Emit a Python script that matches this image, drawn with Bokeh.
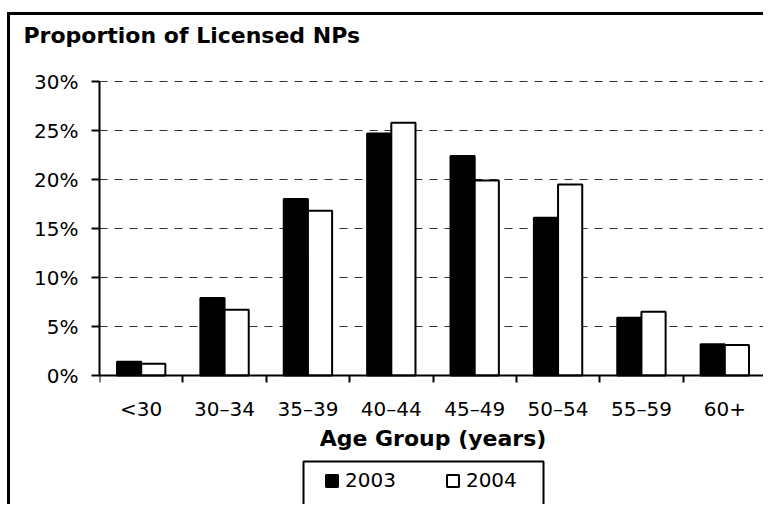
from bokeh.plotting import figure
from bokeh.models import (Range1d, FixedTicker, NumeralTickFormatter,
                          Legend, LegendItem, ColumnDataSource, BoxAnnotation)
from bokeh.embed import file_html
from bokeh.resources import INLINE

# ---- data ----
categories = ["<30", "30–34", "35–39", "40–44", "45–49", "50–54", "55–59", "60+"]
pct_2003 = [1.4, 7.9, 18.0, 24.7, 22.4, 16.1, 5.9, 3.2]
pct_2004 = [1.2, 6.7, 16.8, 25.8, 19.9, 19.5, 6.5, 3.1]
y_ticks = [0, 5, 10, 15, 20, 25, 30]
series_labels = ["2003", "2004"]
title_text = "Proportion of Licensed NPs"
x_title = "Age Group (years)"

# ---- layout constants (canvas px) ----
W, H = 756, 492
FL = 89            # frame left (y axis)
FT = 40            # top of the plotting frame
Y30, Y0 = 66, 360  # canvas rows of 30 % and 0 %
FONT = "DejaVu Sans"

n = len(categories)
ytop = y_ticks[-1] / 100
per_px = ytop / (Y0 - Y30)
ymin = -(H - Y0) * per_px          # frame extends below the x axis
ymax = ytop + (Y30 - FT) * per_px  # and a little above 30 %

p = figure(width=W, height=H, output_backend="svg", toolbar_location=None,
           x_range=Range1d(0, n), y_range=Range1d(ymin, ymax),
           min_border_left=FL, min_border_right=0, min_border_top=FT,
           min_border_bottom=0)
p.outline_line_color = None
p.background_fill_color = "white"
p.border_fill_color = "white"
p.styles = {"border-top": "3px solid black", "border-left": "3px solid black",
            "margin-top": "12px", "margin-left": "7px"}

centers = [i + 0.5 for i in range(n)]
bw = 0.29
src = ColumnDataSource(dict(
    x03=[c - bw / 2 for c in centers],
    x04=[c + bw / 2 for c in centers],
    y03=[v / 100 for v in pct_2003],
    y04=[v / 100 for v in pct_2004],
))
r03 = p.vbar(x="x03", top="y03", bottom=0, width=bw, source=src,
             fill_color="black", line_color="black", line_width=2)
r04 = p.vbar(x="x04", top="y04", bottom=0, width=bw, source=src,
             fill_color="white", line_color="black", line_width=2)

# ---- title ----
p.title.text = title_text
p.title.align = "left"
p.title.offset = 13 - FL
p.title.standoff = 12
p.title.text_font = FONT
p.title.text_font_size = "22px"
p.title.text_font_style = "bold"
p.title.text_color = "black"
p.title.vertical_align = "top"

# ---- x axis (drawn at y = 0 inside the frame) ----
xa = p.xaxis[0]
xa.fixed_location = 0
xa.ticker = FixedTicker(ticks=centers, minor_ticks=list(range(n + 1)))
xa.major_label_overrides = {c: lab for c, lab in zip(centers, categories)}
xa.major_tick_line_color = None
xa.major_tick_out = 0
xa.major_tick_in = 0
xa.minor_tick_line_color = "black"
xa.minor_tick_line_width = 2
xa.minor_tick_out = 7
xa.minor_tick_in = 0
xa.axis_line_width = 2
xa.axis_line_color = "black"
xa.major_label_text_font = FONT
xa.major_label_text_font_size = "20px"
xa.major_label_text_color = "black"
xa.major_label_standoff = 14
xa.axis_label = x_title
xa.axis_label_text_font = FONT
xa.axis_label_text_font_size = "22px"
xa.axis_label_text_font_style = "bold"
xa.axis_label_text_color = "black"
xa.axis_label_standoff = 2

# ---- y axis ----
ya = p.yaxis[0]
ya.bounds = (0, ytop)
ya.ticker = FixedTicker(ticks=[t / 100 for t in y_ticks])
ya.formatter = NumeralTickFormatter(format="0%")
ya.major_tick_out = 8
ya.major_tick_in = 0
ya.major_tick_line_width = 2
ya.major_tick_line_color = "black"
ya.minor_tick_line_color = None
ya.axis_line_width = 2
ya.axis_line_color = "black"
ya.major_label_text_font = FONT
ya.major_label_text_font_size = "20px"
ya.major_label_text_color = "black"
ya.major_label_standoff = 13

p.xgrid.grid_line_color = None
p.ygrid.grid_line_color = "#333333"
p.ygrid.grid_line_dash = "8 7"
p.ygrid.grid_line_width = 1

# ---- legend (inside the extended frame, below the axis) ----
def rel_x(cx):
    return cx - FL

def rel_y(cy):
    return H - cy

p.add_layout(BoxAnnotation(left=rel_x(293), right=rel_x(533),
                           top=rel_y(446), bottom=rel_y(490),
                           left_units="screen", right_units="screen",
                           top_units="screen", bottom_units="screen",
                           fill_alpha=0, line_color="black", line_width=2,
                           line_alpha=1))
legend = Legend(items=[LegendItem(label=series_labels[0], renderers=[r03]),
                       LegendItem(label=series_labels[1], renderers=[r04])],
                orientation="horizontal", location=(rel_x(314), rel_y(477)),
                padding=0, margin=0, spacing=49, label_standoff=6,
                glyph_width=15, glyph_height=15,
                label_text_font=FONT, label_text_font_size="20px",
                label_text_color="black",
                border_line_color=None, background_fill_alpha=0)
p.add_layout(legend)

open("out.html", "w").write(file_html(p, INLINE))
